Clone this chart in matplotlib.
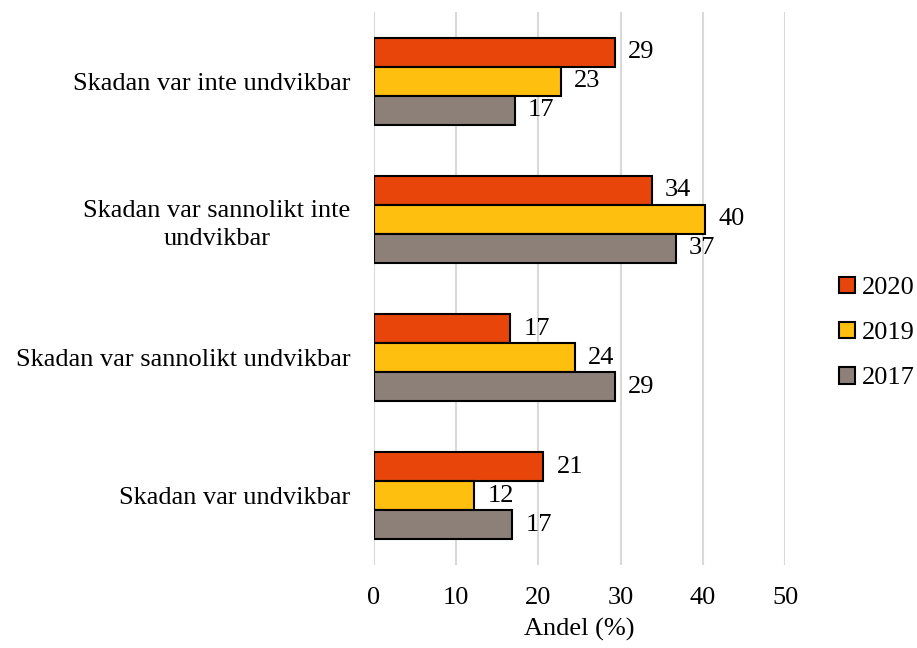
import numpy as np
import matplotlib
matplotlib.use("Agg")
import matplotlib.pyplot as plt

# data (bar lengths; labels are rounded)
categories = ["Skadan var inte undvikbar",
              "Skadan var sannolikt inte\nundvikbar",
              "Skadan var sannolikt undvikbar",
              "Skadan var undvikbar"]
years = ["2020", "2019", "2017"]
vals_2020 = [29.3, 33.8, 16.6, 20.6]
vals_2019 = [22.7, 40.3, 24.4, 12.2]
vals_2017 = [17.1, 36.7, 29.3, 16.8]
colors = ["#E8450B", "#FFBF0E", "#8C8079"]

plt.rcParams['font.family'] = ['Liberation Serif', 'DejaVu Serif']

fig = plt.figure(figsize=(9.17, 6.48), dpi=100)
ax = fig.add_axes([374/917, 1-565/648, 411/917, 553/648])

y = np.arange(len(categories))
h = 0.21
series = [vals_2020, vals_2019, vals_2017]
for k, (vals, c, lab) in enumerate(zip(series, colors, years)):
    pos = y + (k - 1) * h
    bars = ax.barh(pos, vals, height=h, color=c, edgecolor='black',
                   linewidth=1.5, label=lab, zorder=3)
    for b, v in zip(bars, vals):
        ax.text(v + 1.6, b.get_y() + b.get_height()/2, str(int(round(v))),
                va='center', ha='left', fontsize=19, color='#000000')

ax.set_xlim(0, 50)
ax.set_ylim(-0.5, 3.5)
ax.invert_yaxis()
ax.set_xticks(range(0, 51, 10))
ax.set_yticks(y)
ax.set_yticklabels(categories, fontsize=19, multialignment='center',
                   linespacing=1.35)
ax.tick_params(axis='x', labelsize=19, length=0, pad=16)
ax.tick_params(axis='y', length=0, pad=17)
ax.xaxis.grid(True, color='#d9d9d9', linewidth=1.5, zorder=0)
ax.set_axisbelow(True)
for s in ax.spines.values():
    s.set_visible(False)
ax.set_xlabel("Andel (%)", fontsize=19, labelpad=6)

fig.legend(loc='center left', bbox_to_anchor=(839/917, 1-333/648),
           frameon=False, fontsize=19, handlelength=0.6, handleheight=0.6,
           handletextpad=0.25, labelspacing=0.85, borderpad=0, borderaxespad=0)

fig.savefig("out.png", dpi=100)
